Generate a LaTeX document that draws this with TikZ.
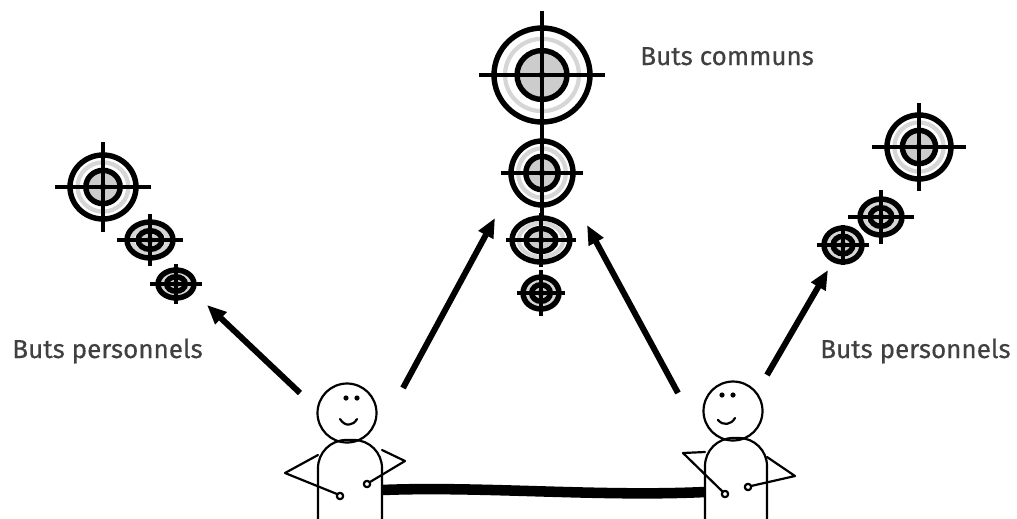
\documentclass[tikz,border=0pt]{standalone}
\usepackage{fontspec}
\setmainfont{Fira Sans}
\newfontfamily\capfont[FakeBold=0.45]{Fira Sans}
\usepackage{tikz}
\usetikzlibrary{arrows.meta}

% name, centre, x radius, y radius, half cross width, half cross height
\newcommand{\target}[6]{%
  \coordinate (#1) at #2;
  \fill[white] (#1) ellipse[x radius=#3, y radius=#4];
  \draw[halo] (#1) ellipse[x radius={0.77*#3}, y radius={0.77*#4}];
  \fill[bull] (#1) ellipse[x radius={0.52*#3}, y radius={0.52*#4}];
  \draw[ring] (#1) ellipse[x radius=#3, y radius=#4];
  \draw[ring] (#1) ellipse[x radius={0.52*#3}, y radius={0.52*#4}];
  \draw[cross] (#1) +(-#5,0) -- +(#5,0) (#1) +(0,-#6) -- +(0,#6);
  \fill (#1) circle[radius=3.4];
}

\begin{document}
\begin{tikzpicture}[
    x=0.02cm, y=-0.02cm,
    ring/.style={line width=3.1pt},
    halo/.style={line width=2.4pt, black!16},
    bull/.style={fill=black!20},
    cross/.style={line width=1.9pt},
    arr/.style={-{Triangle[length=11pt,width=9pt]}, line width=3.4pt},
    stick/.style={line width=1.25pt, line join=round, line cap=round},
    head/.style={draw, circle, line width=1.25pt, minimum size=1.18cm, inner sep=0pt},
    caption/.style={font=\capfont\fontsize{14.8pt}{17pt}\selectfont, text=black!75, inner sep=0pt}
]
  \useasboundingbox (0,0) rectangle (1017,518);

  % targets
  \target{common1}{(542,75)}{48}{47}{63}{64}
  \target{common2}{(542,173)}{31}{32}{41}{43}
  \target{common3}{(541,240)}{29}{22}{35}{27}
  \target{common4}{(541,293)}{18}{16}{24}{23}
  \target{leftgoal1}{(103,187)}{33}{32}{48}{45}
  \target{leftgoal2}{(150,240)}{23}{18}{33}{26}
  \target{leftgoal3}{(176,284)}{18}{14}{26}{20}
  \target{rightgoal1}{(919,147)}{32}{32}{47}{44}
  \target{rightgoal2}{(881,217)}{21}{18}{33}{27}
  \target{rightgoal3}{(843,245)}{19}{17}{26}{20}

  \node[caption, anchor=base west] (common) at (640,65) {Buts communs};
  \node[caption, anchor=base west] (leftown) at (12,358) {Buts personnels};
  \node[caption, anchor=base east] (rightown) at (1011,358) {Buts personnels};

  % left person
  \node[head] (lefthead) at (347,413) {};
  \fill (346,398) circle[radius=2.6] (357,398) circle[radius=2.6];
  \draw[stick] (340,419) .. controls (345,427) and (353,426) .. (357,419);
  \draw[stick, rounded corners=16pt] (318,530) -- (318,440) -- (382,440) -- (382,530);
  \draw[stick] (318,455) -- (285,473) -- (337,494);
  \draw[stick] (340,496) circle[radius=3.2];
  \draw[stick] (382,450) -- (405,461) -- (370,482);
  \draw[stick] (367,484) circle[radius=3.2];

  % right person
  \node[head] (righthead) at (733,411) {};
  \fill (722,395) circle[radius=2.6] (733,395) circle[radius=2.6];
  \draw[stick] (718,420) .. controls (723,426) and (731,425) .. (735,418);
  \draw[stick, rounded corners=16pt] (705,530) -- (705,438) -- (767,438) -- (767,530);
  \draw[stick] (705,452) -- (683,453) -- (722,491);
  \draw[stick] (725,494) circle[radius=3.2];
  \draw[stick] (767,457) -- (795,476) -- (751,486);
  \draw[stick] (748,487) circle[radius=3.2];

  % rope between them
  \coordinate (ropeleft) at (382,490);
  \coordinate (roperight) at (705,492);
  \draw[line width=6pt] (ropeleft) .. controls (480,486) and (600,497) .. (roperight);

  % arrows towards the goals
  \coordinate (tail1) at (300,393);
  \coordinate (tip1) at (207,305);
  \coordinate (tail2) at (403,388);
  \coordinate (tip2) at (495,218);
  \coordinate (tail3) at (678,393);
  \coordinate (tip3) at (587,225);
  \coordinate (tail4) at (767,375);
  \coordinate (tip4) at (828,270);
  \draw[arr] (tail1) -- (tip1);
  \draw[arr] (tail2) -- (tip2);
  \draw[arr] (tail3) -- (tip3);
  \draw[arr] (tail4) -- (tip4);
\end{tikzpicture}
\end{document}
